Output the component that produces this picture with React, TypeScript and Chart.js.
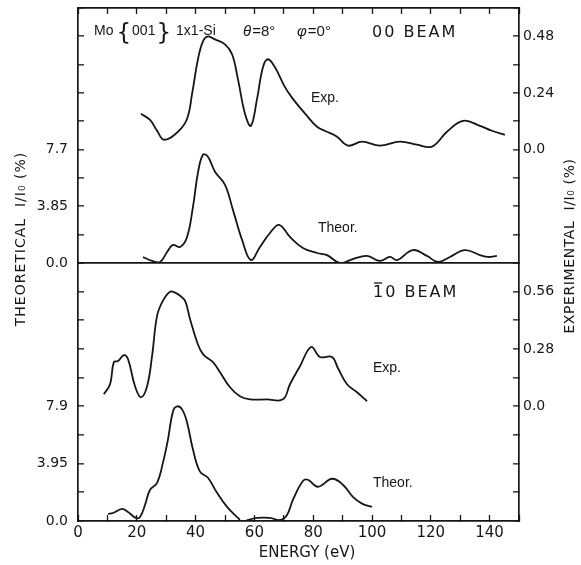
import React, { useEffect, useRef } from 'react';
import { Chart, registerables } from 'chart.js';

Chart.register(...registerables);

// ---------------- data ----------------
const energyTickValues = [0, 20, 40, 60, 80, 100, 120, 140];
const energyTickLabels = ['0', '20', '40', '60', '80', '100', '120', '140'];

const upperTheorTickValues = [0, 3.85, 7.7];
const upperTheorTickLabels = ['0.0', '3.85', '7.7'];
const upperExpTickValues = [0, 0.24, 0.48];
const upperExpTickLabels = ['0.0', '0.24', '0.48'];
const lowerTheorTickValues = [0, 3.95, 7.9];
const lowerTheorTickLabels = ['0.0', '3.95', '7.9'];
const lowerExpTickValues = [0, 0.28, 0.56];
const lowerExpTickLabels = ['0.0', '0.28', '0.56'];

// axis ranges [min, max, step]
const energyRange = [0, 150, 10];
const upperTheorRange = [0, 17.325, 1.925];
const upperExpRange = [-0.48, 0.6, 0.12];
const lowerTheorRange = [0, 17.775, 1.975];
const lowerExpRange = [-0.56, 0.7, 0.14];

// 00 beam, experiment
const beam00ExpEnergy = [21.4, 24.5, 26.9, 29.3, 34.0, 37.1, 38.8, 40.8, 42.5, 44.2, 46.6, 50.0, 52.4, 54.4, 56.8, 58.8, 60.9, 62.9, 64.6, 67.0, 70.4, 73.1, 77.9, 81.3, 84.7, 88.1, 91.8, 96.6, 102.7, 109.5, 115.3, 120.4, 125.5, 131.0, 136.7, 140.8, 145.2];
const beam00ExpValue = [0.152, 0.126, 0.080, 0.042, 0.076, 0.131, 0.236, 0.383, 0.459, 0.48, 0.467, 0.446, 0.404, 0.299, 0.152, 0.101, 0.215, 0.349, 0.383, 0.349, 0.265, 0.215, 0.143, 0.097, 0.076, 0.055, 0.017, 0.034, 0.017, 0.034, 0.021, 0.013, 0.076, 0.122, 0.101, 0.080, 0.063];

// 00 beam, theory
const beam00TheorEnergy = [22.1, 25.2, 27.9, 30.3, 32.3, 34.7, 37.1, 39.1, 40.8, 42.5, 44.2, 46.6, 50.0, 52.7, 55.8, 58.8, 61.9, 65.3, 68.4, 72.1, 76.5, 81.3, 84.7, 89.1, 93.5, 98.3, 102.7, 106.1, 108.5, 113.9, 118.7, 122.4, 126.5, 131.6, 136.7, 139.5, 142.5];
const beam00TheorValue = [0.41, 0.14, 0.07, 0.75, 1.23, 1.09, 1.77, 3.81, 6.13, 7.36, 7.22, 6.2, 5.31, 3.61, 1.57, 0.2, 1.09, 2.04, 2.59, 1.77, 1.02, 0.68, 0.54, 0.0, 0.27, 0.48, 0.14, 0.41, 0.2, 0.88, 0.48, 0.07, 0.41, 0.88, 0.54, 0.41, 0.48];

// -10 beam, experiment
const beam10ExpEnergy = [8.8, 10.9, 12.2, 13.6, 15.6, 17.0, 19.4, 21.4, 23.5, 25.2, 26.9, 28.9, 31.3, 33.0, 34.7, 36.4, 38.1, 40.5, 42.5, 45.9, 48.3, 51.7, 55.1, 58.5, 64.3, 69.7, 72.1, 75.5, 79.3, 82.3, 86.4, 88.4, 91.5, 94.9, 98.3];
const beam10ExpValue = [0.059, 0.108, 0.216, 0.221, 0.25, 0.231, 0.098, 0.044, 0.098, 0.246, 0.442, 0.516, 0.56, 0.555, 0.54, 0.516, 0.427, 0.314, 0.255, 0.216, 0.167, 0.093, 0.049, 0.034, 0.034, 0.034, 0.108, 0.196, 0.29, 0.241, 0.241, 0.187, 0.108, 0.069, 0.025];

// -10 beam, theory (null = break in the curve)
const beam10TheorEnergy = [10.2, 11.9, 15.0, 17.0, 19.7, 21.1, 22.8, 24.5, 26.9, 28.9, 30.6, 32.3, 33.7, 35.4, 37.1, 39.1, 41.5, 44.2, 47.3, 50.7, 54.4, 55.1, 56.0, 56.8, 60.9, 65.3, 68.7, 71.1, 73.1, 76.5, 78.2, 81.6, 86.4, 90.1, 93.5, 96.6, 100.0];
const beam10TheorValue = [0.49, 0.55, 0.83, 0.62, 0.21, 0.28, 1.11, 2.15, 2.63, 4.02, 5.61, 7.55, 7.9, 7.69, 6.79, 4.92, 3.4, 2.98, 1.94, 0.97, 0.21, 0.07, null, 0.0, 0.21, 0.21, 0.07, 0.42, 1.46, 2.75, 2.84, 2.36, 2.91, 2.5, 1.66, 1.2, 0.97];

// ---------------- styling ----------------
const INK = '#161616';
const TICK_FONT = { family: 'DejaVu Sans', size: 14 };
const XTICK_FONT = { family: 'DejaVu Sans', size: 15 };

const pairs = (xs: number[], ys: (number | null)[]) => xs.map((x, i) => ({ x, y: ys[i] }));

const labelFor = (vals: number[], labels: string[]) => (v: number | string) => {
  const n = Number(v);
  const i = vals.findIndex((t) => Math.abs(t - n) < 1e-6);
  return i >= 0 ? labels[i] : '';
};

const noPad = (s: any) => {
  s.paddingTop = 0;
  s.paddingBottom = 0;
  s.paddingLeft = 0;
  s.paddingRight = 0;
};

function yAxis(range: number[], pos: 'left' | 'right', stackWeight: number, weight: number, vals: number[], labels: string[], width: number, divider: boolean) {
  return {
    type: 'linear',
    position: pos,
    stack: pos,
    stackWeight,
    weight,
    min: range[0],
    max: range[1],
    border: { display: true, color: INK, width: 1.7 },
    grid: {
      drawOnChartArea: divider,
      color: (c: any) => (divider && c.tick && Math.abs(c.tick.value) < 1e-9 ? INK : 'rgba(0,0,0,0)'),
      lineWidth: 1.7,
      drawTicks: true,
      tickLength: -6,
      tickColor: INK,
      tickWidth: 1.3,
    },
    ticks: {
      stepSize: range[2],
      autoSkip: false,
      padding: pos === 'left' ? 16 : 10,
      color: INK,
      font: TICK_FONT,
      callback: labelFor(vals, labels),
    },
    afterFit: (s: any) => {
      s.width = width;
      noPad(s);
    },
  };
}

function drawText(ctx: CanvasRenderingContext2D, s: string, x: number, y: number, font: string, spacing = 0, align: CanvasTextAlign = 'left') {
  ctx.font = font;
  (ctx as any).letterSpacing = spacing + 'px';
  ctx.textAlign = align;
  ctx.fillText(s, x, y);
  const w = ctx.measureText(s).width;
  (ctx as any).letterSpacing = '0px';
  return w;
}

const annotations = {
  id: 'annotations',
  beforeDraw(chart: any) {
    const ctx = chart.ctx;
    ctx.save();
    ctx.fillStyle = '#ffffff';
    ctx.fillRect(0, 0, chart.width, chart.height);
    ctx.restore();
  },
  afterDraw(chart: any) {
    const ctx: CanvasRenderingContext2D = chart.ctx;
    ctx.save();
    ctx.fillStyle = INK;
    ctx.strokeStyle = INK;
    ctx.textBaseline = 'alphabetic';
    const F = (px: number) => `${px}px "Liberation Sans"`;
    const D = (px: number) => `${px}px "DejaVu Sans"`;

    // header of upper panel
    let x = 94;
    x += drawText(ctx, 'Mo', x, 35, F(14));
    x += 3;
    x += drawText(ctx, '{', x, 40, D(23));
    x += 1;
    x += drawText(ctx, '001', x, 35, F(14));
    x += 1;
    x += drawText(ctx, '}', x, 40, D(23));
    x += 5;
    drawText(ctx, '1x1-Si', x, 35, F(14));

    let t = 243;
    t += drawText(ctx, 'θ', t, 36, 'italic ' + F(15));
    drawText(ctx, '=8°', t + 1, 36, F(15));
    t = 297;
    t += drawText(ctx, 'φ', t, 36, 'italic ' + F(15));
    drawText(ctx, '=0°', t + 1, 36, F(15));

    drawText(ctx, '00 BEAM', 372, 37, D(16), 2);

    drawText(ctx, 'Exp.', 311, 102, F(14));
    drawText(ctx, 'Theor.', 318, 232, F(14));

    // lower panel
    const w1 = drawText(ctx, '1', 373, 297, D(16), 2);
    ctx.lineWidth = 1.3;
    ctx.beginPath();
    ctx.moveTo(374, 283);
    ctx.lineTo(373 + w1 - 3, 283);
    ctx.stroke();
    drawText(ctx, '0 BEAM', 373 + w1, 297, D(16), 2);

    drawText(ctx, 'Exp.', 373, 372, F(14));
    drawText(ctx, 'Theor.', 373, 487, F(14));

    // axis titles
    ctx.textBaseline = 'middle';
    ctx.save();
    ctx.translate(21, 239);
    ctx.rotate(-Math.PI / 2);
    drawText(ctx, 'THEORETICAL  I/I₀ (%)', 0, 0, D(14), 1, 'center');
    ctx.restore();

    ctx.save();
    ctx.translate(570, 246);
    ctx.rotate(-Math.PI / 2);
    drawText(ctx, 'EXPERIMENTAL  I/I₀ (%)', 0, 0, D(14), 0.6, 'center');
    ctx.restore();

    drawText(ctx, 'ENERGY (eV)', 307, 553, D(15), 0, 'center');
    ctx.restore();
  },
};

export default function App() {
  const ref = useRef<HTMLCanvasElement | null>(null);

  useEffect(() => {
    if (!ref.current) return;
    const line = (data: any[], yAxisID: string) => ({
      data,
      yAxisID,
      xAxisID: 'x',
      borderColor: INK,
      borderWidth: 1.8,
      pointRadius: 0,
      tension: 0.4,
      fill: false,
      spanGaps: false,
    });

    const chart = new Chart(ref.current, {
      type: 'line',
      data: {
        datasets: [
          line(pairs(beam00ExpEnergy, beam00ExpValue), 'yUR'),
          line(pairs(beam00TheorEnergy, beam00TheorValue), 'yUL'),
          line(pairs(beam10ExpEnergy, beam10ExpValue), 'yLR'),
          line(pairs(beam10TheorEnergy, beam10TheorValue), 'yLL'),
        ] as any,
      },
      plugins: [annotations],
      options: {
        animation: false,
        responsive: false,
        devicePixelRatio: 1,
        layout: { padding: 0 },
        plugins: { legend: { display: false }, tooltip: { enabled: false } },
        scales: {
          x: {
            type: 'linear',
            position: 'bottom',
            min: energyRange[0],
            max: energyRange[1],
            border: { display: true, color: INK, width: 1.7 },
            grid: { drawOnChartArea: false, drawTicks: true, tickLength: -6, tickColor: INK, tickWidth: 1.3 },
            ticks: {
              stepSize: energyRange[2],
              autoSkip: false,
              maxRotation: 0,
              padding: 9,
              color: INK,
              font: XTICK_FONT,
              callback: labelFor(energyTickValues, energyTickLabels),
            },
            afterFit: (s: any) => {
              s.height = 44;
              noPad(s);
            },
          },
          x2: {
            type: 'linear',
            position: 'top',
            min: energyRange[0],
            max: energyRange[1],
            border: { display: true, color: INK, width: 1.7 },
            grid: { drawOnChartArea: false, drawTicks: true, tickLength: -6, tickColor: INK, tickWidth: 1.3 },
            ticks: { stepSize: energyRange[2], autoSkip: false, display: false },
            afterFit: (s: any) => {
              s.height = 8;
              noPad(s);
            },
          },
          yUL: yAxis(upperTheorRange, 'left', 255, 1, upperTheorTickValues, upperTheorTickLabels, 78, true),
          yLL: yAxis(lowerTheorRange, 'left', 258, 0, lowerTheorTickValues, lowerTheorTickLabels, 78, false),
          yUR: yAxis(upperExpRange, 'right', 255, 0, upperExpTickValues, upperExpTickLabels, 62, false),
          yLR: yAxis(lowerExpRange, 'right', 258, 1, lowerExpTickValues, lowerExpTickLabels, 62, false),
        } as any,
      },
    });
    return () => chart.destroy();
  }, []);

  return (
    <div style={{ position: 'fixed', left: 0, top: 0, width: 581, height: 565, background: '#fff' }}>
      <canvas ref={ref} width={581} height={565} style={{ display: 'block' }} />
    </div>
  );
}
